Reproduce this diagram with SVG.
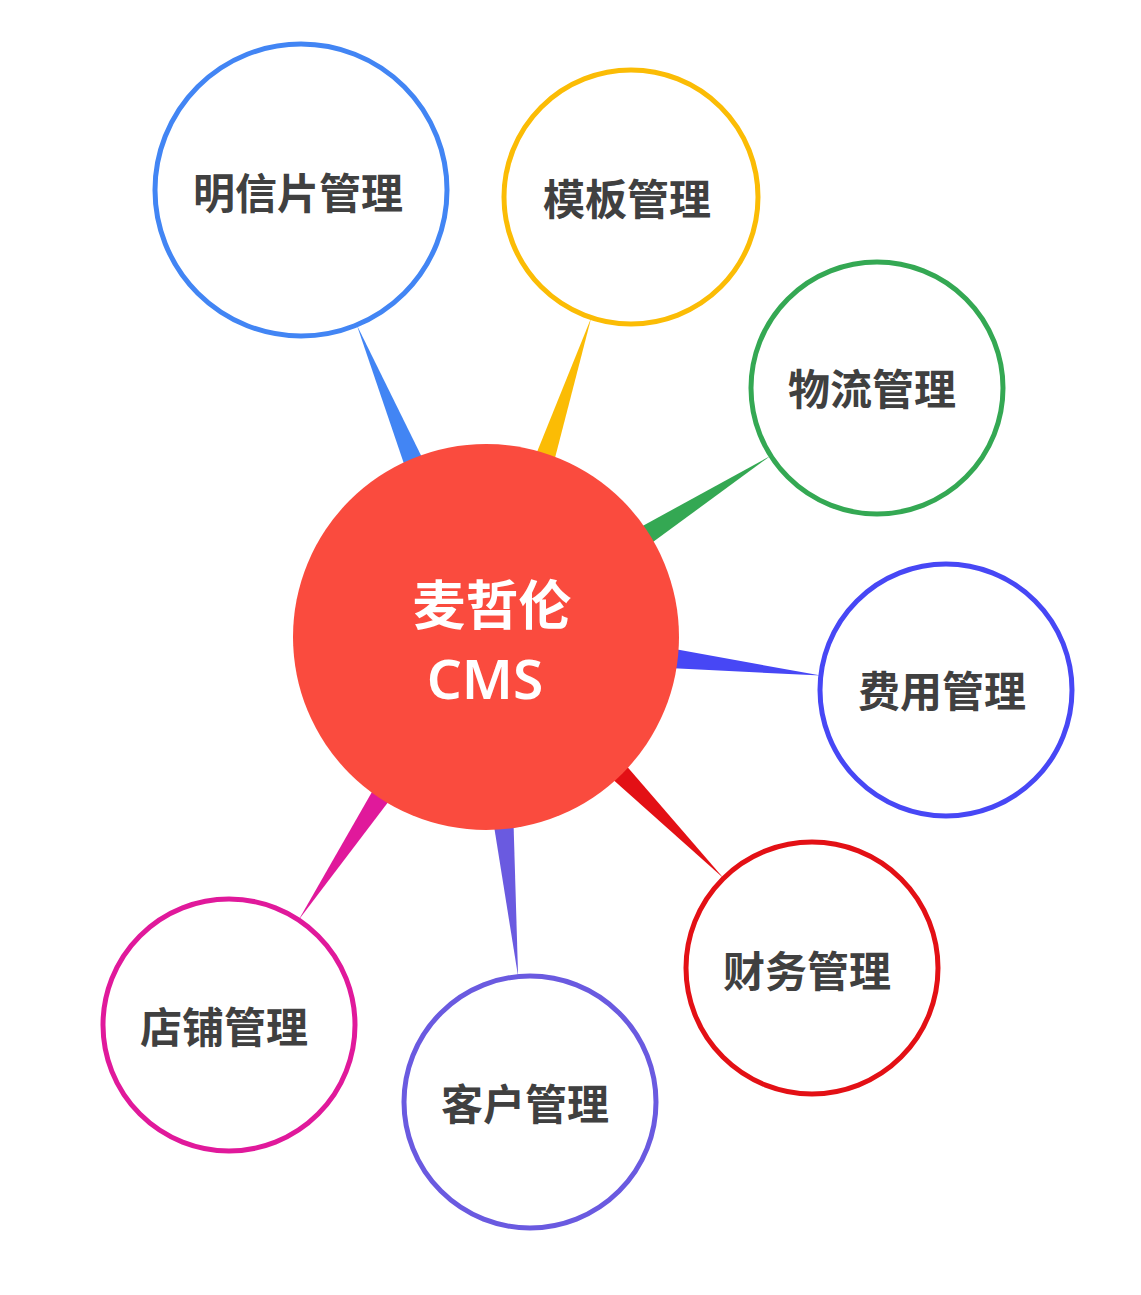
<svg xmlns="http://www.w3.org/2000/svg" width="1141" height="1295" viewBox="0 0 1141 1295">
<style>
.node{fill:#ffffff;stroke-width:5}
.lbl{font-family:"Noto Sans CJK SC","Noto Sans",sans-serif;font-weight:bold;font-size:42px;fill:#404040;text-anchor:middle}
.ctr{font-family:"Noto Sans CJK SC","Noto Sans",sans-serif;font-weight:bold;fill:#ffffff;text-anchor:middle}
.cms{font-family:"Noto Sans","Open Sans",sans-serif;font-weight:600;fill:#ffffff;text-anchor:middle}
</style>
<rect width="1141" height="1295" fill="#ffffff"/>
<g id="connectors">
<polygon points="356.8,324.9 465.7,645.4 506.3,628.6" fill="#4285F4"/>
<polygon points="591.3,317.6 465.1,630.1 506.9,643.9" fill="#FBBC05"/>
<polygon points="770.7,455.7 474.2,618.4 497.8,655.6" fill="#34A853"/>
<polygon points="820.8,675.6 488.5,615.1 483.5,658.9" fill="#4747F5"/>
<polygon points="723.6,878.2 501.7,621.6 470.3,652.4" fill="#E31015"/>
<polygon points="518.1,976.6 507.9,634.9 464.1,639.1" fill="#6A5AE0"/>
<polygon points="298.6,920.0 504.3,649.1 467.7,624.9" fill="#E0199B"/>
</g>
<g id="n1"><circle class="node" cx="301" cy="190" r="146" stroke="#4285F4"/><text class="lbl" x="298" y="209">明信片管理</text></g>
<g id="n2"><circle class="node" cx="631" cy="197" r="127" stroke="#FBBC05"/><text class="lbl" x="627" y="215">模板管理</text></g>
<g id="n3"><circle class="node" cx="877" cy="388" r="126" stroke="#34A853"/><text class="lbl" x="872" y="405">物流管理</text></g>
<g id="n4"><circle class="node" cx="946" cy="690" r="126" stroke="#4747F5"/><text class="lbl" x="942" y="707">费用管理</text></g>
<g id="n5"><circle class="node" cx="812" cy="968" r="126" stroke="#E31015"/><text class="lbl" x="807" y="987">财务管理</text></g>
<g id="n6"><circle class="node" cx="530" cy="1102" r="126" stroke="#6A5AE0"/><text class="lbl" x="525" y="1120">客户管理</text></g>
<g id="n7"><circle class="node" cx="229" cy="1025" r="126" stroke="#E0199B"/><text class="lbl" x="224" y="1043">店铺管理</text></g>
<g id="center"><circle cx="486" cy="637" r="193" fill="#FA4B3E"/><text class="ctr" x="492" y="625" font-size="53">麦哲伦</text><text class="cms" x="485" y="699" font-size="55">CMS</text></g>
</svg>
